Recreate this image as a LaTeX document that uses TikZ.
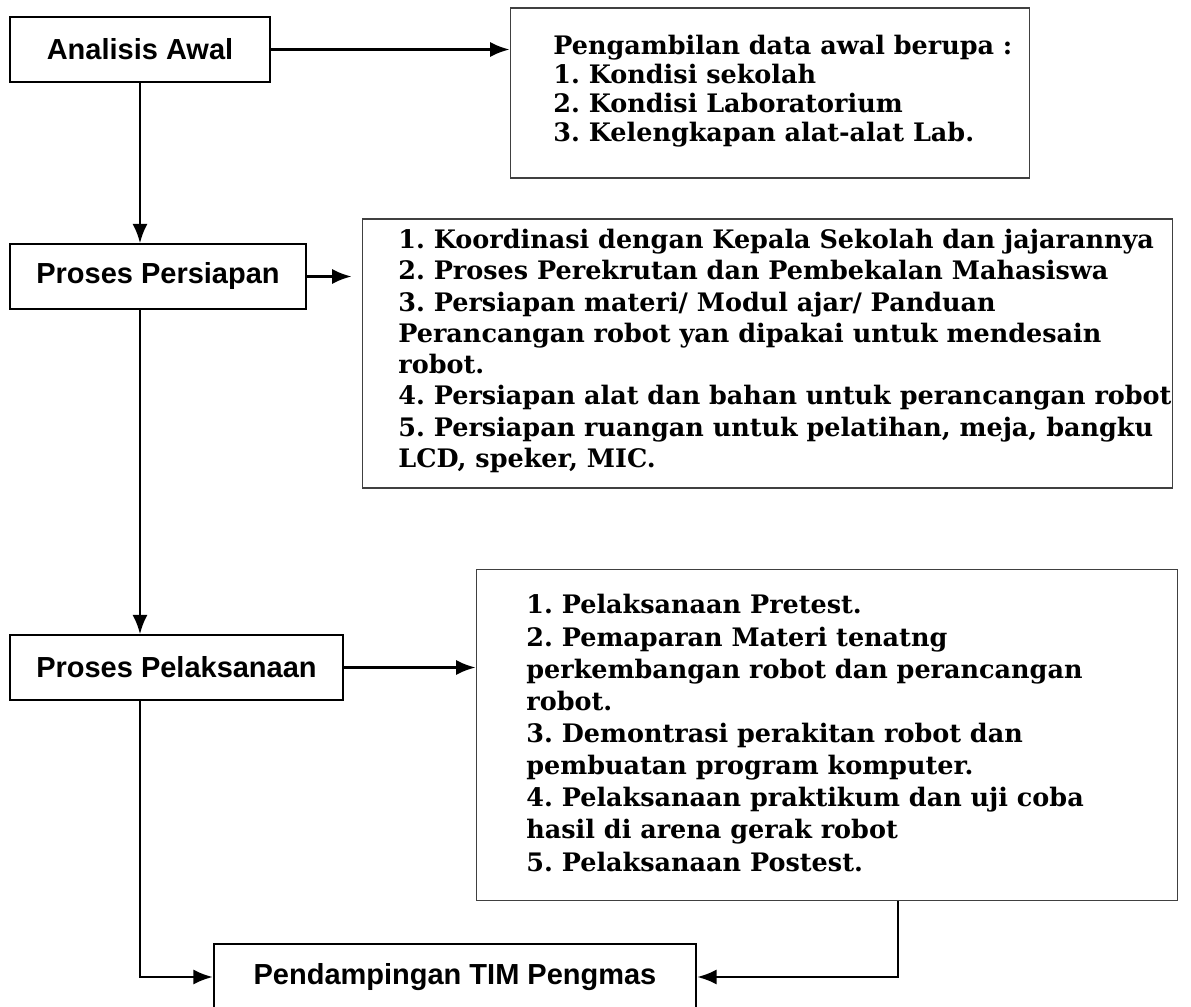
\documentclass[tikz,border=0pt]{standalone}
\usepackage{fontspec}
\setmainfont{DejaVu Serif}
\newfontfamily\komik{Liberation Sans}
\usetikzlibrary{arrows.meta}
\frenchspacing

\begin{document}
\begin{tikzpicture}[x=0.02cm, y=-0.02cm,
    tahap/.style={draw, line width=0.8pt, minimum height=1.3cm, inner sep=0pt,
        font=\komik\bfseries\fontsize{16.5}{19}\selectfont},
    kotak/.style={draw=black!75, line width=0.6pt, inner sep=0pt},
    isi/.style={anchor=west, align=left, inner sep=0pt,
        font=\bfseries\fontsize{14.5}{17.8}\selectfont},
    panah/.style={line width=1.4pt, -{Latex[length=11pt, width=8.5pt]}}]
    \useasboundingbox (0,0) rectangle (1191,1007);

    % Tahapan kegiatan (kolom kiri)
    \node[tahap, minimum width=5.2cm] (analisis) at (140,49.5) {Analisis Awal};
    \node[tahap, minimum width=5.92cm] (persiapan) at (158,276.5) {Proses Persiapan};
    \node[tahap, minimum width=6.66cm] (pelaksanaan) at (176.5,667.5) {Proses Pelaksanaan};
    \node[tahap, line width=1.4pt, minimum width=9.64cm, minimum height=1.32cm] (akhir) at (455,977) {Pendampingan TIM Pengmas};

    % Rincian tiap tahap (kolom kanan)
    \node[kotak, minimum width=10.4cm, minimum height=3.4cm] (info1) at (770,93) {};
    \node[isi, font=\bfseries\fontsize{14.5}{16.5}\selectfont] (teks1) at (553,91) {Pengambilan data awal berupa :\\
        1. Kondisi sekolah\\
        2. Kondisi Laboratorium\\
        3. Kelengkapan alat-alat Lab.};

    \node[kotak, minimum width=16.22cm, minimum height=5.38cm] (info2) at (767.5,353.5) {};
    \node[isi] (teks2) at (398,351) {1. Koordinasi dengan Kepala Sekolah dan jajarannya\\
        2. Proses Perekrutan dan Pembekalan Mahasiswa\\
        3. Persiapan materi/ Modul ajar/ Panduan\\
        Perancangan robot yan dipakai untuk mendesain\\
        robot.\\
        4. Persiapan alat dan bahan untuk perancangan robot\\
        5. Persiapan ruangan untuk pelatihan, meja, bangku\\
        LCD, speker, MIC.};

    \node[kotak, minimum width=14.04cm, minimum height=6.64cm] (info3) at (827,735) {};
    \node[isi, font=\bfseries\fontsize{14.5}{18.3}\selectfont] (teks3) at (526,733) {1. Pelaksanaan Pretest.\\
        2. Pemaparan Materi tenatng\\
        perkembangan robot dan perancangan\\
        robot.\\
        3. Demontrasi perakitan robot dan\\
        pembuatan program komputer.\\
        4. Pelaksanaan praktikum dan uji coba\\
        hasil di arena gerak robot\\
        5. Pelaksanaan Postest.};

    % Panah ke kanan
    \draw[panah] (analisis.east) -- (analisis.east -| info1.west);
    \draw[panah] (persiapan.east) -- ([xshift=-0.2cm]persiapan.east -| info2.west);
    \draw[panah] (pelaksanaan.east) -- (pelaksanaan.east -| info3.west);

    % Alur ke bawah
    \draw[panah] (analisis.south) -- (analisis.south |- persiapan.north);
    \draw[panah] (analisis.south |- persiapan.south) -- (analisis.south |- pelaksanaan.north);
    \draw[panah] (analisis.south |- pelaksanaan.south) |- (akhir.west);
    \draw[panah] ([xshift=1.42cm]info3.south) |- (akhir.east);
\end{tikzpicture}
\end{document}
